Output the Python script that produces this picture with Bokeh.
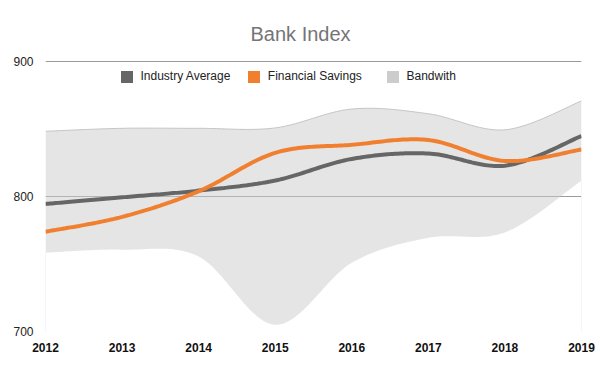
import numpy as np
from bokeh.plotting import figure
from bokeh.models import Range1d, FixedTicker, Legend, LegendItem, Title
from bokeh.embed import file_html
from bokeh.resources import INLINE

# ---- data ----
years = [2012, 2013, 2014, 2015, 2016, 2017, 2018, 2019]
year_labels = ["2012", "2013", "2014", "2015", "2016", "2017", "2018", "2019"]
industry_average = [794.6, 799.5, 804.5, 812, 828, 832, 823, 845]
financial_savings = [774, 785, 804, 832.5, 838.5, 842, 826.5, 835]
band_upper = [848.5, 850.7, 850.7, 851, 865, 861.5, 849.6, 871]
band_lower = [758.5, 760.7, 755.6, 705, 751, 769.5, 773.5, 812]
y_ticks = [700, 800, 900]
grid_ticks = [800, 900]
series_names = ["Industry Average", "Financial Savings", "Bandwith"]
title_text = "Bank Index"

FONT = "Liberation Sans"
GRAY = "#666666"
ORANGE = "#f0802f"
BAND = "#cccccc"
NAN = float("nan")


def smooth(xs, ys, n=30):
    """Catmull-Rom rendering of the curve through the given points."""
    xs = np.asarray(xs, float)
    ys = np.asarray(ys, float)
    px = np.concatenate([[xs[0]], xs, [xs[-1]]])
    py = np.concatenate([[ys[0]], ys, [ys[-1]]])
    outx, outy = [], []
    for i in range(1, len(px) - 2):
        t = np.linspace(0, 1, n, endpoint=False) if i < len(px) - 3 else np.linspace(0, 1, n)
        for arr, out in ((px, outx), (py, outy)):
            p0, p1, p2, p3 = arr[i - 1], arr[i], arr[i + 1], arr[i + 2]
            out.extend(0.5 * (2 * p1 + (-p0 + p2) * t + (2 * p0 - 5 * p1 + 4 * p2 - p3) * t ** 2
                              + (-p0 + 3 * p1 - 3 * p2 + p3) * t ** 3))
    return np.array(outx), np.array(outy)


p = figure(width=600, height=371, output_backend="svg", toolbar_location=None,
           x_range=Range1d(years[0], years[-1]), y_range=Range1d(y_ticks[0], y_ticks[-1] + 1),
           min_border_left=45, min_border_right=19, min_border_top=60, min_border_bottom=40)
p.outline_line_color = None
p.background_fill_color = "white"
p.border_fill_color = "white"

# band
bx, bu = smooth(years, band_upper)
_, bl = smooth(years, band_lower)
p.varea(x=bx, y1=bl, y2=bu, fill_color=BAND, fill_alpha=0.5)
p.line(bx, bu, line_color="#c4c4c4", line_width=1)
p.segment(x0=[years[0], years[-1]], y0=[y_ticks[0]] * 2, x1=[years[0], years[-1]],
          y1=[band_lower[0], band_lower[-1]], line_color="#eeeeee", line_width=1)

# lines
gx, gy = smooth(years, industry_average)
p.line(gx, gy, line_color=GRAY, line_width=4)
ox, oy = smooth(years, financial_savings)
p.line(ox, oy, line_color=ORANGE, line_width=4)

# axes
p.yaxis.ticker = FixedTicker(ticks=y_ticks)
p.yaxis.axis_line_color = None
p.yaxis.major_tick_line_color = None
p.yaxis.minor_tick_line_color = None
p.yaxis.major_label_text_font = FONT
p.yaxis.major_label_text_font_size = "12px"
p.yaxis.major_label_text_color = "#222222"
p.yaxis.major_label_standoff = 6

p.xaxis.ticker = FixedTicker(ticks=years)
p.xaxis.major_label_overrides = {y: l for y, l in zip(years, year_labels)}
p.xaxis.axis_line_color = None
p.xaxis.major_tick_line_color = None
p.xaxis.minor_tick_line_color = None
p.xaxis.major_label_text_font = FONT
p.xaxis.major_label_text_font_size = "12px"
p.xaxis.major_label_text_font_style = "bold"
p.xaxis.major_label_text_color = "#111111"
p.xaxis.major_label_standoff = 5

p.xgrid.visible = False
p.ygrid.ticker = FixedTicker(ticks=grid_ticks)
p.ygrid.grid_line_color = "#9a9a9a"

# title
p.add_layout(Title(text=title_text, align="left", offset=205, standoff=32,
                   text_font=FONT, text_font_size="20px", text_font_style="normal",
                   text_color="#757575"), "above")

# legend (one legend per entry for exact placement)
swatch_colors = [GRAY, ORANGE, BAND]
legend_x = [73.5, 200.8, 339.5]
for name, col, lx in zip(series_names, swatch_colors, legend_x):
    r = p.quad(left=[NAN], right=[NAN], top=[NAN], bottom=[NAN], fill_color=col, line_color=None)
    lg = Legend(items=[LegendItem(label=name, renderers=[r])], location=(lx, 247.5),
                orientation="horizontal", padding=0, margin=0, spacing=0,
                border_line_color=None, background_fill_alpha=0,
                glyph_width=15, glyph_height=15, label_height=15, label_standoff=7,
                label_text_font=FONT, label_text_font_size="12px", label_text_color="#222222")
    p.add_layout(lg)

open("out.html", "w").write(file_html(p, INLINE))
